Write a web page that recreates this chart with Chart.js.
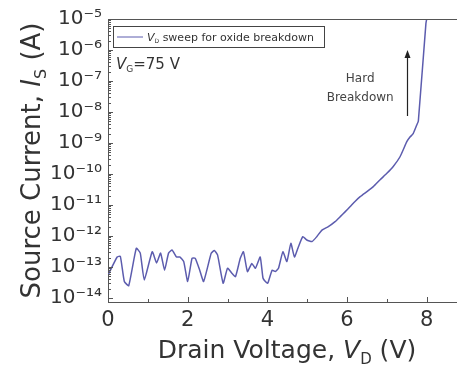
<!DOCTYPE html>
<html><head><meta charset="utf-8">
<script src="https://cdn.jsdelivr.net/npm/chart.js@4"></script>
<style>html,body{margin:0;padding:0;background:#fff;overflow:hidden}</style>
</head><body>
<canvas id="c" width="457" height="367"></canvas>
<script>
// ---- data ----
const drainVoltage = [0.00,0.23,0.31,0.41,0.52,0.71,0.81,0.91,1.11,1.22,1.32,1.42,1.52,1.61,1.72,1.80,1.90,2.00,2.11,2.19,2.30,2.40,2.59,2.67,2.75,2.89,3.00,3.11,3.20,3.32,3.40,3.50,3.61,3.70,3.82,3.89,3.95,4.01,4.12,4.20,4.28,4.39,4.49,4.59,4.68,4.78,4.89,4.99,5.12,5.24,5.37,5.53,5.70,5.83,5.95,6.08,6.20,6.33,6.50,6.66,6.83,7.00,7.16,7.33,7.50,7.58,7.66,7.75,7.79,7.98,8.02];
const sourceCurrent = [5.5e-14,2.1e-13,2.2e-13,3.4e-14,2.5e-14,4.0e-13,2.8e-13,3.8e-14,3.1e-13,1.35e-13,2.8e-13,7.9e-14,2.8e-13,3.5e-13,2.1e-13,2.1e-13,1.5e-13,3.4e-14,1.9e-13,1.9e-13,8.0e-14,3.4e-14,2.75e-13,3.4e-13,2.45e-13,3.0e-14,9.1e-14,6.3e-14,4.9e-14,1.9e-13,3.1e-13,7.1e-14,1.3e-13,9.1e-14,2.1e-13,4.4e-14,3.4e-14,3.0e-14,7.9e-14,7.1e-14,9.1e-14,3.1e-13,1.5e-13,5.8e-13,2.1e-13,4.5e-13,9.5e-13,7.4e-13,6.6e-13,9.5e-13,1.55e-12,2.0e-12,2.9e-12,4.2e-12,6.0e-12,8.9e-12,1.3e-11,1.85e-11,2.7e-11,3.9e-11,6.5e-11,1.05e-10,1.75e-10,3.6e-10,1.1e-9,1.55e-9,2.0e-9,3.8e-9,5.1e-9,7.2e-6,1.35e-5];
const xTickValues = [0,2,4,6,8];
const xMinorValues = [1,3,5,7];
const yDecadeExponents = [-14,-13,-12,-11,-10,-9,-8,-7,-6,-5];
const seriesName = " sweep for oxide breakdown";
const gateLabel = "=75 V";
const annotationLines = ["Hard","Breakdown"];
const arrowX = 7.5, arrowFrom = Math.pow(10,-8.13), arrowTo = Math.pow(10,-6.0);
const noteX = 6.33, noteY = [Math.pow(10,-6.94), Math.pow(10,-7.55)];

const FONT = '"DejaVu Sans", Verdana, sans-serif';
const TXT = '#333';
const AXC = '#555';
const sup = s => String(s).split('').map(ch => ({'-':'\u207B','0':'\u2070','1':'\u00B9','2':'\u00B2','3':'\u00B3','4':'\u2074','5':'\u2075','6':'\u2076','7':'\u2077','8':'\u2078','9':'\u2079'})[ch]).join('');

function drawRich(ctx, parts, x, y, align) {
  let w = 0;
  parts.forEach(p => { ctx.font = p.f; p.w = ctx.measureText(p.t).width; w += p.w; });
  let cx = align === 'center' ? x - w/2 : (align === 'right' ? x - w : x);
  ctx.textBaseline = 'alphabetic'; ctx.textAlign = 'left';
  parts.forEach(p => { ctx.font = p.f; ctx.fillText(p.t, cx, y + (p.dy||0)); cx += p.w; });
  return w;
}

const decor = {
  id: 'decor',
  afterDraw(chart) {
    const ctx = chart.ctx, ca = chart.chartArea, xs = chart.scales.x, ys = chart.scales.y;
    ctx.save();
    // top frame
    ctx.strokeStyle = AXC; ctx.lineWidth = 1;
    ctx.beginPath(); ctx.moveTo(ca.left, ca.top + 0.5); ctx.lineTo(ca.right, ca.top + 0.5); ctx.stroke();
    // inward ticks x
    ctx.beginPath();
    xTickValues.forEach(v => { const px = Math.round(xs.getPixelForValue(v)) + 0.5; ctx.moveTo(px, ca.bottom); ctx.lineTo(px, ca.bottom - 5); });
    xMinorValues.forEach(v => { const px = Math.round(xs.getPixelForValue(v)) + 0.5; ctx.moveTo(px, ca.bottom); ctx.lineTo(px, ca.bottom - 3); });
    // inward ticks y
    yDecadeExponents.forEach(e => {
      const py = Math.round(ys.getPixelForValue(Math.pow(10, e))) + 0.5;
      ctx.moveTo(ca.left, py); ctx.lineTo(ca.left + 5, py);
      if (e < -5) for (let m = 2; m <= 9; m++) {
        const pm = Math.round(ys.getPixelForValue(m * Math.pow(10, e))) + 0.5;
        ctx.moveTo(ca.left, pm); ctx.lineTo(ca.left + 3, pm);
      }
    });
    ctx.stroke();

    // legend box
    const ds = chart.data.datasets[0];
    const lx = ca.left + 5, ly = ca.top + 7;
    ctx.strokeStyle = '#444'; ctx.lineWidth = 1;
    ctx.strokeRect(lx + 0.5, ly + 0.5, 211, 21);
    ctx.strokeStyle = ds.borderColor; ctx.lineWidth = 1;
    ctx.beginPath(); ctx.moveTo(lx + 4, ly + 11); ctx.lineTo(lx + 30, ly + 11); ctx.stroke();
    ctx.fillStyle = TXT;
    drawRich(ctx, [
      {t:'V', f:'italic 11px ' + FONT},
      {t:'D', f:'6px ' + FONT, dy:2},
      {t:seriesName, f:'11px ' + FONT}
    ], lx + 34, ly + 15, 'left');

    // V_G label
    drawRich(ctx, [
      {t:'V', f:'italic 15px ' + FONT},
      {t:'G', f:'9px ' + FONT, dy:3},
      {t:gateLabel, f:'15px ' + FONT}
    ], ca.left + 8, ca.top + 50, 'left');

    // Hard breakdown annotation
    ctx.fillStyle = '#444';
    ctx.font = '12px ' + FONT; ctx.textAlign = 'center'; ctx.textBaseline = 'middle';
    annotationLines.forEach((t, i) => ctx.fillText(t, xs.getPixelForValue(noteX), ys.getPixelForValue(noteY[i])));
    const ax = Math.round(xs.getPixelForValue(arrowX)) + 0.5;
    const ay0 = ys.getPixelForValue(arrowFrom), ay1 = ys.getPixelForValue(arrowTo);
    ctx.strokeStyle = '#222'; ctx.lineWidth = 1.2;
    ctx.beginPath(); ctx.moveTo(ax, ay0); ctx.lineTo(ax, ay1 + 6); ctx.stroke();
    ctx.fillStyle = '#222';
    ctx.beginPath(); ctx.moveTo(ax, ay1); ctx.lineTo(ax - 3, ay1 + 8); ctx.lineTo(ax + 3, ay1 + 8); ctx.closePath(); ctx.fill();

    // axis titles
    ctx.fillStyle = TXT;
    drawRich(ctx, [
      {t:'Drain Voltage, ', f:'25px ' + FONT},
      {t:'V', f:'italic 25px ' + FONT},
      {t:'D', f:'15px ' + FONT, dy:6},
      {t:' (V)', f:'25px ' + FONT}
    ], 287, 358, 'center');
    ctx.save();
    ctx.translate(40, (ca.top + ca.bottom) / 2);
    ctx.rotate(-Math.PI / 2);
    drawRich(ctx, [
      {t:'Source Current, ', f:'26px ' + FONT},
      {t:'I', f:'italic 26px ' + FONT},
      {t:'S', f:'16px ' + FONT, dy:6},
      {t:' (A)', f:'26px ' + FONT}
    ], 0, 0, 'center');
    ctx.restore();
    ctx.restore();
  }
};

new Chart(document.getElementById('c'), {
  type: 'line',
  data: {
    datasets: [{
      label: 'V_D' + seriesName,
      data: drainVoltage.map((v, i) => ({x: v, y: sourceCurrent[i]})),
      borderColor: '#5c5cae',
      borderWidth: 1.5,
      pointRadius: 0,
      tension: 0.15,
      fill: false
    }]
  },
  options: {
    responsive: false,
    animation: false,
    layout: {padding: {top: 19, right: 0, left: 0, bottom: 0}},
    plugins: {legend: {display: false}, tooltip: {enabled: false}},
    scales: {
      x: {
        type: 'linear', min: 0, max: 8.76,
        afterBuildTicks: s => { s.ticks = xTickValues.map(v => ({value: v})); },
        afterFit: s => { s.height = 65; },
        grid: {display: true, drawOnChartArea: false, drawTicks: false},
        border: {display: true, color: AXC, width: 1},
        ticks: {font: {family: FONT, size: 21}, color: TXT, padding: 6, maxRotation: 0}
      },
      y: {
        type: 'logarithmic', min: Math.pow(10, -14.13), max: 1e-5,
        afterBuildTicks: s => { s.ticks = yDecadeExponents.map(e => ({value: Math.pow(10, e)})); },
        afterFit: s => { s.width = 108; },
        grid: {display: true, drawOnChartArea: false, drawTicks: false},
        border: {display: true, color: AXC, width: 1},
        ticks: {
          font: {family: FONT, size: 20}, color: TXT, padding: 6,
          callback: v => '10' + sup(Math.round(Math.log10(v)))
        }
      }
    }
  },
  plugins: [decor]
});
</script>
</body></html>
